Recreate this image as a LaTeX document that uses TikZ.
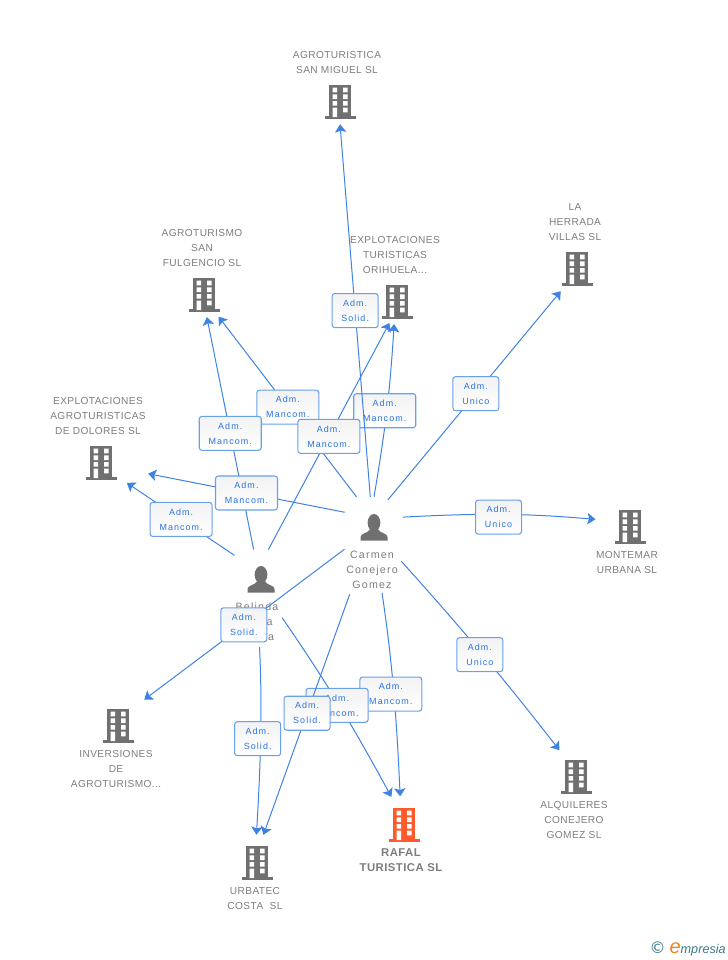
\documentclass[tikz,border=0pt]{standalone}
\usepackage{fontspec}
\setmainfont{Liberation Sans}
\newfontfamily\boxfont[LetterSpace=12]{Liberation Sans}
\newfontfamily\namefont[LetterSpace=4]{Liberation Sans}
\newfontfamily\personfont[LetterSpace=11]{Liberation Sans}
\newfontfamily\logofont{DejaVu Sans}
\usetikzlibrary{arrows.meta}
\definecolor{linkblue}{RGB}{62,130,228}
\definecolor{boxblue}{RGB}{104,160,236}
\definecolor{labelblue}{RGB}{40,115,225}
\definecolor{icongrey}{RGB}{112,112,112}
\definecolor{textgrey}{RGB}{125,125,125}
\definecolor{rafalred}{RGB}{255,90,43}
\definecolor{logoteal}{RGB}{60,120,140}
\definecolor{logoorange}{RGB}{240,130,30}
\tikzset{
  pics/building/.style={code={
    \fill[#1] (-11,-16) rectangle (11,16);
    \fill[#1] (-15.5,15) rectangle (15.5,18);
    \fill[white] (-7.5,-13.3) rectangle (-3,-8.7) (3,-13.3) rectangle (7.5,-8.7);
    \fill[white] (-7.5,-6.7) rectangle (-3,-2) (3,-6.7) rectangle (7.5,-2);
    \fill[white] (-7.5,0) rectangle (-3,4.7) (3,0) rectangle (7.5,4.7);
    \fill[white] (-7.5,6.7) rectangle (-3,16) (3,6.7) rectangle (7.5,11.3);
  }},
  pics/person/.style={code={
    \fill[icongrey] (0,-4.3) ellipse (6.4 and 8.7);
    \fill[icongrey] (-13.5,13.7) -- (-13.5,10) .. controls (-13.5,6) and (-6,6.5) .. (-3.5,2) -- (3.5,2)
      .. controls (6,6.5) and (13.5,6) .. (13.5,10) -- (13.5,13.7) -- cycle;
  }},
  company/.style={circle,minimum size=34.5pt,inner sep=0pt},
  owner/.style={circle,minimum size=45pt,inner sep=0pt},
  caption/.style={align=center,inner sep=0pt,text=textgrey,font=\namefont\fontsize{7.6}{11.25}\selectfont},
  rolebox/.style={draw=boxblue,line width=.8pt,rounded corners=2pt,top color=black!5,bottom color=white,
    minimum height=25.5pt,inner sep=0pt,align=center,text=labelblue,font=\boxfont\fontsize{6.7}{11.25}\selectfont},
  widebox/.style={rolebox,minimum width=46.5pt},
  smallbox/.style={rolebox,minimum width=34.5pt},
}
\begin{document}
\begin{tikzpicture}[x=0.75pt,y=-0.75pt]
  \useasboundingbox (0,0) rectangle (728,960);

  % companies and owners
  \begin{scope}[every node/.style={company}]
    \node (sanmiguel)   at (340,101) {};
    \node (herrada)     at (577,268) {};
    \node (fulgencio)   at (204,294) {};
    \node (orihuela)    at (397,301) {};
    \node (dolores)     at (101,462) {};
    \node (montemar)    at (630,526) {};
    \node (inversiones) at (118,725) {};
    \node (alquileres)  at (576,776) {};
    \node (rafal)       at (404,824) {};
    \node (urbatec)     at (257,862) {};
  \end{scope}
  \node[owner] (carmen)  at (374,527) {};
  \node[owner] (belinda) at (261,579) {};

  \pic at (sanmiguel)   {building=icongrey};
  \pic at (herrada)     {building=icongrey};
  \pic at (fulgencio)   {building=icongrey};
  \pic at (orihuela)    {building=icongrey};
  \pic at (dolores)     {building=icongrey};
  \pic at (montemar)    {building=icongrey};
  \pic at (inversiones) {building=icongrey};
  \pic at (alquileres)  {building=icongrey};
  \pic at (rafal)       {building=rafalred};
  \pic at (urbatec)     {building=icongrey};
  \pic at (carmen)      {person};
  \pic at (belinda)     {person};

  \begin{scope}[every node/.style={caption}]
    \node (sanmiguel-name)   at (337,62.5) {AGROTURISTICA\\SAN MIGUEL SL};
    \node (herrada-name)     at (575,222)  {LA\\HERRADA\\VILLAS SL};
    \node (fulgencio-name)   at (202,248)  {AGROTURISMO\\SAN\\FULGENCIO SL};
    \node (orihuela-name)    at (395,255)  {EXPLOTACIONES\\TURISTICAS\\ORIHUELA...};
    \node (dolores-name)     at (98,416)   {EXPLOTACIONES\\AGROTURISTICAS\\DE DOLORES SL};
    \node (montemar-name)    at (627,562.5) {MONTEMAR\\URBANA SL};
    \node (inversiones-name) at (116,769)  {INVERSIONES\\DE\\AGROTURISMO...};
    \node (alquileres-name)  at (574,820)  {ALQUILERES\\CONEJERO\\GOMEZ SL};
    \node (urbatec-name)     at (255,898.5) {URBATEC\\COSTA \ SL};
    \node[font=\namefont\fontsize{8.5}{11.25}\selectfont\bfseries] (rafal-name) at (401,860.5) {RAFAL\\TURISTICA SL};
    \node[font=\personfont\fontsize{8}{11.25}\selectfont] (carmen-name)  at (372,570) {Carmen\\Conejero\\Gomez};
    \node[font=\personfont\fontsize{8}{11.25}\selectfont] (belinda-name) at (257,622) {Belinda\\Maria\\Sierra};
  \end{scope}

  % links, later boxes lie on top of earlier ones
  \begin{scope}[every edge/.style={draw=linkblue,line width=.75pt,-{Stealth[length=6pt,width=8.5pt,inset=1.2pt]}}]
    \path (carmen.90) edge[bend right=3] node[widebox,xshift=-1.5pt] {Adm.\\Mancom.} (orihuela.-97.7);
    \path (carmen.97.6) edge node[smallbox] {Adm.\\Solid.} (sanmiguel.-90);
    \path (carmen.119.5) edge[shorten <=3.4pt,shorten >=2.8pt] node[widebox] {Adm.\\Mancom.} (fulgencio.-58.3);
    \path (belinda.104) edge node[widebox] {Adm.\\Mancom.} (fulgencio.-83);
    \path (belinda.76.5) edge node[widebox] {Adm.\\Mancom.} (orihuela.-109);
    \path (carmen.152.7) edge[shorten <=2pt,shorten >=19pt] node[widebox,pos=.45] {Adm.\\Mancom.} (dolores.-17.7);
    \path (belinda.137) edge[shorten <=4pt,shorten >=7.5pt] node[widebox,pos=.48] {Adm.\\Mancom.} (dolores.-41.3);
    \path (carmen.63.4) edge[shorten >=3.8pt] node[smallbox] {Adm.\\Unico} (herrada.-124.8);
    \path (carmen.19) edge[bend left=4,shorten >=9pt] node[smallbox,pos=.465,yshift=-2pt] {Adm.\\Unico} (montemar.166.8);
    \path (carmen.-53.4) edge[bend left=2,shorten <=10pt,shorten >=5.6pt] node[smallbox,pos=.515,xshift=-2pt] {Adm.\\Unico} (alquileres.121.6);
    \path (carmen.-143.7) edge[shorten <=5pt,shorten >=10pt] node[smallbox,pos=.49] {Adm.\\Solid.} (inversiones.48.4);
    \path (belinda.-96) edge[bend left=3,shorten <=28.5pt,shorten >=3pt] node[smallbox,pos=.57,xshift=-2pt] {Adm.\\Solid.} (urbatec.92);
    \path (carmen.-85.7) edge[bend left=3,shorten <=27pt,shorten >=3.5pt] node[widebox,pos=.56,xshift=-2pt,yshift=-1.5pt] {Adm.\\Mancom.} (rafal.99.8);
    \path (belinda.-64.6) edge[bend left=3,shorten <=10.5pt,shorten >=5pt] node[widebox,pos=.515,xshift=-1.5pt] {Adm.\\Mancom.} (rafal.114);
    \path (carmen.-110.5) edge[shorten <=31pt,shorten >=3.5pt] node[smallbox,pos=.556] {Adm.\\Solid.} (urbatec.78);
  \end{scope}

  \node[inner sep=0pt,anchor=east] (logo) at (726,949)
    {\textcolor{logoteal}{\logofont\fontsize{12}{12}\selectfont ©}\hspace{3pt}{\itshape\textcolor{logoorange}{\fontsize{15}{15}\selectfont e}\textcolor{logoteal}{\fontsize{9.5}{9.5}\selectfont mpresia}}};
\end{tikzpicture}
\end{document}
